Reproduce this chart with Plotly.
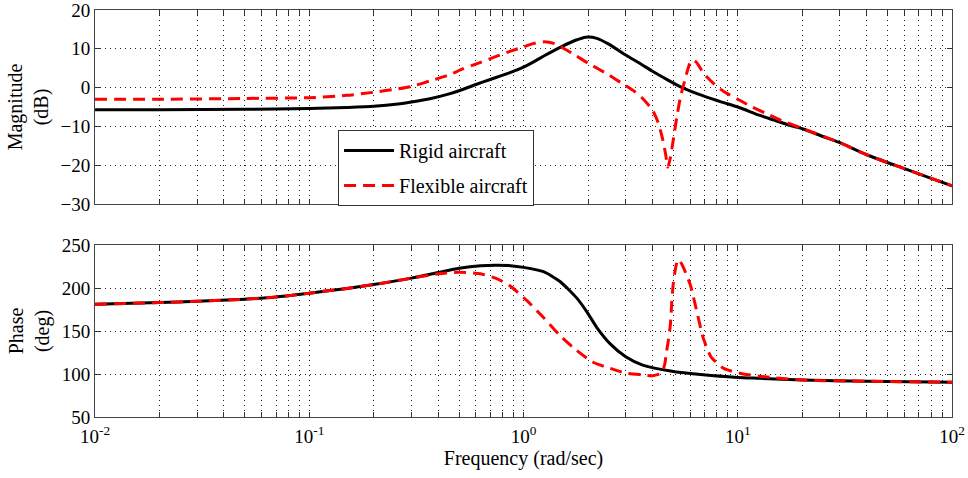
import plotly.graph_objects as go

# ---- data ----
rigid_mag_w = [0.01, 0.02, 0.05, 0.1, 0.15, 0.2, 0.26, 0.3, 0.37, 0.45, 0.5, 0.6, 0.7, 0.87, 1.0,
               1.12, 1.25, 1.5, 1.75, 1.95, 2.2, 2.5, 3.0, 3.5, 4.0, 4.7, 5.5, 6.5, 7.4, 8.5,
               10, 12.6, 15, 18.2, 20, 25, 30, 40, 60, 80, 100]
rigid_mag_db = [-5.7, -5.7, -5.6, -5.4, -5.1, -4.8, -4.2, -3.7, -2.8, -1.6, -0.8, 0.8, 2.1, 3.9, 5.3,
                6.7, 8.2, 10.5, 12.2, 13.0, 12.7, 11.2, 8.4, 6.2, 4.2, 2.0, 0.0, -1.6, -2.7, -3.8,
                -5.0, -7.1, -8.5, -10.0, -10.6, -12.6, -14.2, -17.3, -20.9, -23.4, -25.3]

flex_mag_w = [0.01, 0.02, 0.05, 0.1, 0.15, 0.2, 0.26, 0.3, 0.37, 0.45, 0.52, 0.63, 0.75, 0.87, 1.0,
              1.12, 1.25, 1.4, 1.55, 1.75, 2.0, 2.5, 2.9, 3.3, 3.6, 4.0, 4.25, 4.45, 4.6, 4.72,
              4.85, 5.0, 5.2, 5.4, 5.7, 5.95, 6.15, 6.4, 6.95, 7.8, 8.6, 10, 11.5, 13.5, 16, 20,
              30, 40, 60, 80, 100]
flex_mag_db = [-3.0, -3.0, -2.8, -2.6, -2.0, -1.2, -0.3, 0.3, 1.8, 3.3, 4.8, 6.5, 8.1, 9.4, 10.5,
               11.4, 11.8, 11.3, 10.0, 8.3, 6.3, 3.3, 1.0, -1.0, -2.8, -5.8, -9.0, -13.0, -17.0, -20.5,
               -18.0, -13.5, -7.5, -2.5, 2.5, 6.0, 7.2, 6.6, 3.6, 0.8, -1.0, -3.0, -4.8, -6.6, -8.5, -10.5,
               -14.2, -17.3, -20.9, -23.4, -25.3]

rigid_ph_w = [0.01, 0.02, 0.03, 0.05, 0.07, 0.1, 0.15, 0.2, 0.3, 0.4, 0.5, 0.63, 0.75, 0.87, 1.0,
              1.24, 1.48, 1.77, 1.98, 2.2, 2.54, 3.0, 3.6, 4.85, 6.9, 10, 12.6, 20, 40, 100]
rigid_ph_deg = [181, 183, 184.5, 187, 189.5, 194, 199.5, 204, 211.5, 218, 223, 226, 226.5, 226, 224,
                219, 207.6, 188.5, 172, 154, 135, 120, 110.3, 103.5, 99, 96, 95, 93, 91.5, 90.5]

flex_ph_w = [0.01, 0.02, 0.03, 0.05, 0.07, 0.1, 0.15, 0.2, 0.3, 0.4, 0.5, 0.63, 0.75, 0.87, 1.04,
             1.24, 1.48, 1.77, 2.1, 2.54, 3.0, 3.6, 4.0, 4.4, 4.55, 4.66, 4.75, 4.85, 4.92, 5.0,
             5.1, 5.2, 5.3, 5.5, 6.0, 6.45, 6.9, 7.5, 8.6, 10.6, 12.6, 15, 20, 40, 100]
flex_ph_deg = [181, 183, 184.5, 187, 189.5, 194, 199.5, 204, 211.5, 216.5, 218.3, 216.5, 211, 202, 185,
               165.6, 144.7, 127.5, 114, 106.5, 101, 99, 98, 101, 110, 127, 140, 158, 183, 205,
               220, 230, 233, 227, 204, 172, 142, 120, 106.5, 100, 97.5, 95.5, 93, 91.5, 90.5]

x_major = [0.01, 0.1, 1, 10, 100]
x_major_text = ["10<sup>-2</sup>", "10<sup>-1</sup>", "10<sup>0</sup>", "10<sup>1</sup>", "10<sup>2</sup>"]
mag_ticks = [-30, -20, -10, 0, 10, 20]
phase_ticks = [50, 100, 150, 200, 250]

FONT = "Liberation Serif"

# minor log ticks (2..9 per decade)
x_minor = [d * k for d in x_major[:-1] for k in range(2, 10)]

GRID = dict(showgrid=True, gridcolor="#222", griddash="1px,4px", gridwidth=1)
minor_x = dict(tickmode="array", tickvals=x_minor, ticks="inside", ticklen=5, tickcolor="#333",
               **GRID)

fig = go.Figure()
fig.add_trace(go.Scatter(x=rigid_mag_w, y=rigid_mag_db, mode="lines", name="Rigid aircraft",
                         line=dict(color="black", width=3, shape="spline", smoothing=0.6),
                         xaxis="x", yaxis="y", legendgroup="a"))
fig.add_trace(go.Scatter(x=flex_mag_w, y=flex_mag_db, mode="lines", name="Flexible aircraft",
                         line=dict(color="#ff0000", width=3, dash="12px,7px", shape="spline", smoothing=0.6),
                         xaxis="x", yaxis="y", legendgroup="b"))
fig.add_trace(go.Scatter(x=rigid_ph_w, y=rigid_ph_deg, mode="lines", showlegend=False,
                         line=dict(color="black", width=3, shape="spline", smoothing=0.6),
                         xaxis="x2", yaxis="y2"))
fig.add_trace(go.Scatter(x=flex_ph_w, y=flex_ph_deg, mode="lines", showlegend=False,
                         line=dict(color="#ff0000", width=3, dash="12px,7px", shape="spline", smoothing=0.6),
                         xaxis="x2", yaxis="y2"))

common_x = dict(type="log", range=[-2, 2], tickmode="array", tickvals=x_major,
                ticks="inside", ticklen=5, tickcolor="#333", showline=True, linecolor="#444",
                linewidth=1, mirror="ticks", zeroline=False, automargin=False,
                ticklabeloverflow="allow", minor=minor_x,
                tickfont=dict(family=FONT, size=19, color="black"), **GRID)
common_y = dict(ticks="inside", ticklen=5, tickcolor="#333", showline=True, linecolor="#444",
                linewidth=1, mirror="ticks", zeroline=False, automargin=False,
                ticklabeloverflow="allow",
                tickfont=dict(family=FONT, size=19, color="black"), **GRID)

fig.update_layout(
    width=968, height=478,
    margin=dict(l=95, r=16, t=10, b=61),
    paper_bgcolor="white", plot_bgcolor="white",
    font=dict(family=FONT, size=19, color="black"),
    xaxis=dict(common_x, domain=[0, 1], anchor="y", showticklabels=False),
    yaxis=dict(common_y, domain=[0.5233, 1], anchor="x", range=[-30, 20], tickvals=mag_ticks,
               title=dict(text="Magnitude<br>(dB)", standoff=6, font=dict(family=FONT, size=20))),
    xaxis2=dict(common_x, domain=[0, 1], anchor="y2", ticktext=x_major_text, ticklabelstandoff=2,
                title=dict(text="Frequency (rad/sec)", standoff=4, font=dict(family=FONT, size=20))),
    yaxis2=dict(common_y, domain=[0, 0.4226], anchor="x2", range=[50, 250], tickvals=phase_ticks,
                title=dict(text="Phase<br>(deg)", standoff=6, font=dict(family=FONT, size=20))),
    legend=dict(x=0.2836, y=0.705, xanchor="left", yanchor="top", bgcolor="white",
                bordercolor="#333", borderwidth=1, font=dict(family=FONT, size=20),
                tracegroupgap=6, itemwidth=50, entrywidth=180, entrywidthmode="pixels"),
    showlegend=True,
)

fig.write_html("out.html")
